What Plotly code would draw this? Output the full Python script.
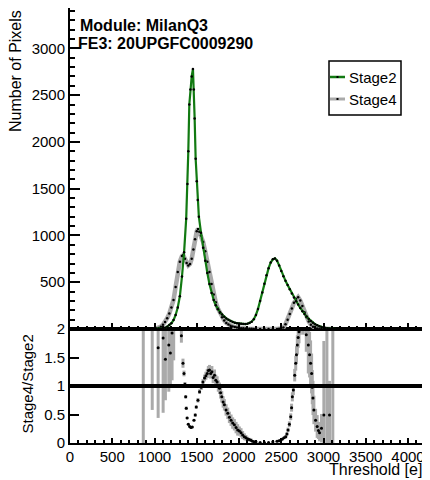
import plotly.graph_objects as go

# Stage2 threshold distribution (green)
stage2_x = [1000, 1025, 1050, 1075, 1100, 1125, 1150, 1175, 1200, 1225, 1250, 1275, 1300, 1325, 1350, 1375,
            1390, 1400, 1412, 1425, 1440, 1455, 1465, 1475, 1487, 1500, 1512, 1525,
            1550, 1575, 1600, 1625, 1650, 1675, 1700, 1725, 1750, 1775, 1800, 1825, 1850, 1875, 1900, 1925,
            1950, 1975, 2000, 2025, 2050, 2075, 2100, 2125, 2150, 2175, 2200, 2225, 2250, 2275, 2300, 2325,
            2350, 2375, 2400, 2425, 2450, 2475, 2500, 2525, 2550, 2575, 2600, 2625, 2650, 2675, 2700, 2725,
            2750, 2775, 2800, 2825, 2850, 2875, 2900, 2925, 2950, 2975, 3000, 3025, 3050, 3075, 3100, 3125, 3150]
stage2_y = [1, 2, 3, 5, 8, 13, 25, 42, 62, 95, 150, 230, 350, 560, 820, 1180,
            1550, 1900, 2400, 2560, 2700, 2780, 2560, 2250, 1820, 1580, 1380, 1200,
            1030, 870, 730, 600, 480, 385, 310, 255, 212, 180, 155, 132, 113, 98, 86, 76,
            68, 62, 58, 55, 53, 53, 56, 63, 78, 105, 150, 215, 300, 390, 485, 575,
            650, 710, 745, 755, 730, 680, 620, 565, 515, 470, 425, 380, 338, 298, 262, 225,
            190, 160, 133, 108, 86, 68, 52, 40, 30, 22, 16, 12, 9, 6, 4, 2, 0]

# Stage4 threshold distribution (grey)
stage4_x = [1000, 1025, 1050, 1075, 1100, 1125, 1150, 1175, 1200, 1225, 1250, 1275, 1300, 1325, 1340, 1360,
            1380, 1400, 1420, 1440, 1460, 1480, 1500, 1515, 1530, 1550, 1575, 1600, 1625, 1650, 1675, 1700,
            1725, 1750, 1775, 1800, 1825, 1850, 1875, 1900, 1925, 1950, 1975, 2000, 2025, 2050, 2075, 2100,
            2125, 2150, 2175, 2200, 2250, 2300, 2350, 2400, 2450, 2475, 2500, 2525, 2550, 2575, 2600, 2625,
            2650, 2675, 2700, 2725, 2750, 2775, 2800, 2825, 2850, 2875, 2900, 2925, 2950, 2975, 3000, 3025,
            3050, 3075, 3100]
stage4_y = [0, 5, 12, 25, 45, 75, 115, 165, 230, 310, 450, 610, 720, 780, 790, 750,
            705, 680, 695, 750, 850, 960, 1045, 1070, 1040, 1000, 930, 830, 720, 610, 480, 370,
            285, 220, 170, 125, 90, 65, 48, 35, 27, 21, 16, 12, 9, 7, 5, 4,
            3, 2, 1, 0, 0, 0, 0, 0, 0, 2, 4, 15, 50, 100, 160, 220,
            280, 320, 340, 305, 245, 180, 125, 80, 45, 25, 12, 6, 3, 2, 2, 1,
            1, 0, 0]

# Stage4/Stage2 ratio with errors
ratio_x = [867, 973, 1043, 1102, 1129, 1169, 1188, 1208, 1227, 1318, 1337, 1349, 1360, 1369, 1376, 1386,
           1400, 1416, 1431, 1447, 1467, 1482, 1494, 1514, 1533, 1553, 1573, 1592, 1608, 1624, 1637, 1651,
           1665, 1679, 1694, 1710, 1725, 1741, 1755, 1769, 1782, 1796, 1812, 1827, 1847, 1867, 1886, 1906,
           1925, 1945, 1965, 1984, 2004, 2024, 2043, 2063, 2082, 2102, 2121, 2141, 2160, 2180, 2200, 2250,
           2300, 2350, 2400, 2450, 2475, 2494, 2514, 2533, 2553, 2567, 2580, 2596, 2612, 2622, 2631, 2643,
           2659, 2671, 2680, 2690, 2700, 2710, 2725, 2760, 2796, 2820, 2835, 2847, 2859, 2867, 2875, 2886,
           2906, 2925, 2940, 2953, 2976, 3004, 3040, 3071, 3110]
ratio_y = [2.5, 2.3, 1.67, 1.84, 1.47, 1.72, 1.58, 1.93, 2.2, 1.88, 1.40, 1.22, 1.03, 0.81, 0.61, 0.44,
           0.33, 0.29, 0.27, 0.28, 0.40, 0.49, 0.63, 0.75, 0.90, 0.98, 1.07, 1.14, 1.18, 1.22, 1.27, 1.28,
           1.22, 1.25, 1.15, 1.19, 1.10, 1.07, 1.00, 0.96, 0.88, 0.81, 0.72, 0.67, 0.58, 0.52, 0.45, 0.40,
           0.35, 0.32, 0.27, 0.23, 0.21, 0.18, 0.14, 0.11, 0.09, 0.07, 0.06, 0.05, 0.03, 0.02, 0.02, 0.01,
           0.01, 0.01, 0.02, 0.03, 0.04, 0.05, 0.07, 0.09, 0.11, 0.16, 0.23, 0.33, 0.46, 0.62, 0.81, 0.93,
           1.19, 1.40, 1.55, 1.72, 1.85, 1.95, 2.2, 2.3, 1.90, 1.72, 1.55, 1.40, 1.22, 0.98, 0.79, 0.58,
           0.40, 0.29, 0.22, 0.18, 0.26, 0.49, 2.5, 0.49, 2.5]
ratio_err = [2.5, 1.72, 1.23, 1.31, 0.72, 0.82, 0.55, 0.83, 0.75, 0.12, 0.08, 0.05, 0.04, 0.03, 0.03, 0.02,
             0.02, 0.02, 0.02, 0.02, 0.02, 0.03, 0.03, 0.04, 0.04, 0.05, 0.05, 0.06, 0.07, 0.08, 0.08, 0.09,
             0.09, 0.1, 0.1, 0.1, 0.1, 0.1, 0.1, 0.1, 0.1, 0.1, 0.1, 0.1, 0.1, 0.1, 0.1, 0.1,
             0.1, 0.1, 0.1, 0.1, 0.08, 0.08, 0.07, 0.06, 0.05, 0.04, 0.03, 0.03, 0.02, 0.01, 0.01, 0.01,
             0.01, 0.01, 0.01, 0.02, 0.02, 0.02, 0.02, 0.02, 0.03, 0.03, 0.04, 0.05, 0.06, 0.07, 0.08, 0.09,
             0.11, 0.13, 0.15, 0.17, 0.18, 0.2, 0.3, 0.4, 0.3, 0.5, 0.4, 0.4, 0.35, 0.3, 0.3, 0.25,
             0.2, 0.2, 0.15, 0.15, 0.25, 1.3, 2.5, 0.6, 2.5]
ratio_ref = 1.0

x_ticks = [0, 500, 1000, 1500, 2000, 2500, 3000, 3500, 4000]
y_ticks = [500, 1000, 1500, 2000, 2500, 3000]
r_ticks = [0, 0.5, 1, 1.5, 2]
r_labels = ['0', '0.5', '1', '1.5', '2']

# the page body has an 8px margin, so the figure is drawn 8px smaller and shifted
OFF = 8
W, H = 430 - OFF, 480 - OFF
L, R, T, B = 70 - OFF, 6, 0, 37
pw, ph = W - L - R, H - T - B
split = 114 / ph

def px(xp):  # page pixel -> paper x
    return (xp - OFF - L) / pw

def py(yp):  # page pixel -> paper y
    return (H - B - (yp - OFF)) / ph

GREEN = '#127a12'
GREY = '#aaaaaa'
FONT = 'Liberation Sans'

fig = go.Figure()
fig.add_trace(go.Scatter(x=stage4_x, y=stage4_y, mode='lines+markers', xaxis='x2', yaxis='y2',
                         line=dict(color=GREY, width=4.5), marker=dict(color='black', size=2.5)))
fig.add_trace(go.Scatter(x=stage2_x, y=stage2_y, mode='lines+markers', xaxis='x2', yaxis='y2',
                         line=dict(color=GREEN, width=2.2), marker=dict(color='black', size=2.5)))
fig.add_trace(go.Scatter(x=ratio_x, y=ratio_y, mode='markers', xaxis='x', yaxis='y',
                         marker=dict(color='black', size=3),
                         error_y=dict(type='data', array=ratio_err, color=GREY, thickness=3, width=0)))

axis_common = dict(showgrid=False, zeroline=False, showline=True, linecolor='black', linewidth=2,
                   mirror=True, ticks='inside', tickcolor='black', tickwidth=1.5, automargin=False,
                   tickfont=dict(family=FONT, size=15, color='black'))

fig.update_layout(
    width=W, height=H, margin=dict(l=L, r=R, t=T, b=B, pad=0, autoexpand=False),
    paper_bgcolor='white', plot_bgcolor='white', showlegend=False,
    font=dict(family=FONT, color='black'),
    xaxis=dict(axis_common, domain=[0, 1], range=[0, 4189], anchor='y', tickvals=x_ticks, ticklen=5,
               ticklabelstandoff=-1,
               minor=dict(dtick=100, tick0=0, ticklen=3, ticks='inside', tickcolor='black')),
    xaxis2=dict(axis_common, domain=[0, 1], range=[0, 4189], anchor='y2', matches='x', tickvals=x_ticks,
                ticklen=6, showticklabels=False,
                minor=dict(dtick=100, tick0=0, ticklen=3, ticks='inside', tickcolor='black')),
    yaxis=dict(axis_common, domain=[0, split], range=[0, 2], anchor='x', tickvals=r_ticks, ticktext=r_labels,
               ticklen=9),
    yaxis2=dict(axis_common, domain=[split, 1], range=[0, 3432], anchor='x2', tickvals=y_ticks, ticklen=10,
                minor=dict(dtick=100, tick0=0, ticklen=5, ticks='inside', tickcolor='black')),
)

fig.add_shape(type='line', xref='paper', yref='y', x0=0, x1=1, y0=ratio_ref, y1=ratio_ref,
              line=dict(color='black', width=4))

# legend box drawn by hand (ROOT style)
fig.add_shape(type='rect', xref='paper', yref='paper', x0=px(329), x1=px(401), y0=py(115), y1=py(61),
              line=dict(color='black', width=1.5), fillcolor='white')
fig.add_shape(type='line', xref='paper', yref='paper', x0=px(330), x1=px(345), y0=py(77), y1=py(77),
              line=dict(color=GREEN, width=2.5))
fig.add_shape(type='line', xref='paper', yref='paper', x0=px(330), x1=px(345), y0=py(99), y1=py(99),
              line=dict(color=GREY, width=3))
for yy in (77, 99):
    fig.add_shape(type='rect', xref='paper', yref='paper', x0=px(336.5), x1=px(338.5),
                  y0=py(yy + 1), y1=py(yy - 1), line=dict(width=0), fillcolor='black')
for txt, yy in (('Stage2', 77), ('Stage4', 99)):
    fig.add_annotation(text=txt, xref='paper', yref='paper', x=px(347), y=py(yy), xanchor='left',
                       yanchor='middle', showarrow=False, font=dict(family=FONT, size=15))

fig.add_annotation(text='<b>Module: MilanQ3</b>', xref='paper', yref='paper', x=px(78), y=py(26),
                   xanchor='left', yanchor='middle', showarrow=False, font=dict(family=FONT, size=16))
fig.add_annotation(text='<b>FE3: 20UPGFC0009290</b>', xref='paper', yref='paper', x=px(76), y=py(43),
                   xanchor='left', yanchor='middle', showarrow=False, font=dict(family=FONT, size=16))

fig.add_annotation(text='Number of Pixels', xref='paper', yref='paper', x=px(15), y=py(8), textangle=-90,
                   xanchor='center', yanchor='top', showarrow=False, font=dict(family=FONT, size=16))
fig.add_annotation(text='Stage4/Stage2', xref='paper', yref='paper', x=px(27), y=py(333), textangle=-90,
                   xanchor='center', yanchor='top', showarrow=False, font=dict(family=FONT, size=15))
fig.add_annotation(text='Threshold [e]', xref='paper', yref='paper', x=px(424), y=py(469),
                   xanchor='right', yanchor='middle', showarrow=False, font=dict(family=FONT, size=16))

fig.write_html("out.html")
